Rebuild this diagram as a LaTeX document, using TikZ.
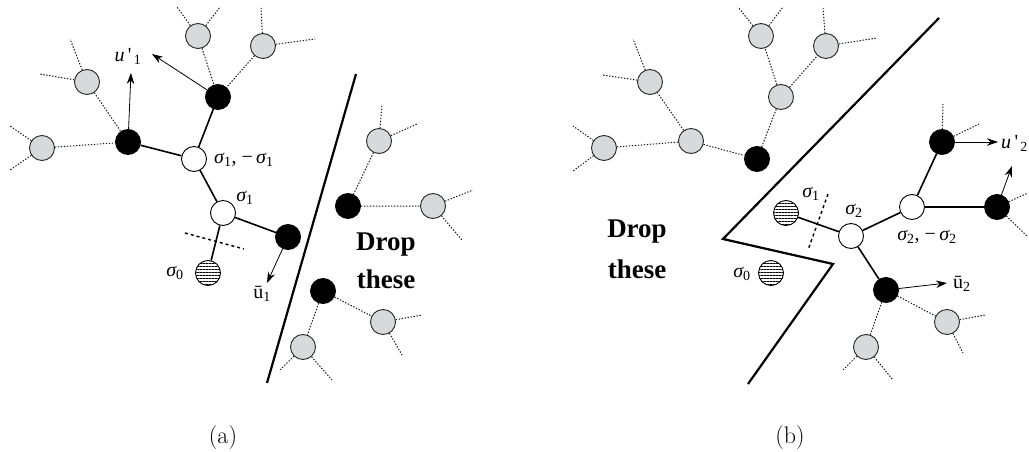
\RequirePackage{fix-cm}
\documentclass[tikz,border=0pt]{standalone}
\usepackage{fontspec}
\newfontfamily\dropfont{Liberation Serif}
\newfontfamily\lblfont{Liberation Serif}
\usetikzlibrary{arrows.meta,patterns.meta}
\definecolor{nodegray}{RGB}{216,217,218}
% label pieces: italic sigma with an upright index, primed and barred u
\newcommand\sg[1]{{\itshape σ}\textsubscript{#1}}
\newcommand\up[1]{{\itshape u}\,\textquotesingle\textsubscript{\,#1}}
\newcommand\ub[1]{\={u}\textsubscript{#1}}
\begin{document}
\begin{tikzpicture}[x=1pt,y=-1pt,
  vtx/.style={circle, draw=black, line width=0.9pt, minimum size=25pt, inner sep=0pt},
  grayv/.style={vtx, fill=nodegray, draw=black!85},
  blackv/.style={vtx, fill=black},
  whitev/.style={vtx, fill=white},
  hatchv/.style={vtx, pattern={Lines[angle=0,distance=3pt,line width=0.7pt]}},
  link/.style={line width=1.6pt},
  dots/.style={dash pattern=on 1.4pt off 1.6pt, line width=1pt, draw=black!90},
  move/.style={line width=0.8pt, -{Stealth[length=11pt,width=7.5pt]}},
  cut/.style={line width=2.2pt},
  cutmark/.style={dashed, line width=1.4pt},
  lab/.style={font=\lblfont\fontsize{20}{24}\selectfont, inner sep=0pt},
  droplab/.style={font=\dropfont\bfseries\fontsize{27}{38}\selectfont, align=center, inner sep=0pt},
  caption/.style={font=\fontsize{24}{27}\selectfont, inner sep=0pt}
]
\useasboundingbox (0,0) rectangle (1029,452);

% ---------------- panel (a) ----------------
\draw[cut] (356,74) coordinate (a_cutA) -- (267,383) coordinate (a_cutB);

\node[grayv]  (a_g1) at (42,148) {};
\node[grayv]  (a_g2) at (87,82) {};
\node[grayv]  (a_g3) at (198,36) {};
\node[grayv]  (a_g4) at (263,46) {};
\node[blackv] (a_b1) at (128,142) {};
\node[blackv] (a_b2) at (218,97) {};
\node[whitev] (a_w1) at (194,159) {};
\node[whitev] (a_w2) at (223,213) {};
\node[hatchv] (a_h0) at (208,273) {};
\node[blackv] (a_b3) at (288,237) {};
\node[blackv] (a_b4) at (348,206) {};
\node[grayv]  (a_g5) at (379,141) {};
\node[grayv]  (a_g6) at (433,206) {};
\node[blackv] (a_b5) at (323,291) {};
\node[grayv]  (a_g7) at (383,322) {};
\node[grayv]  (a_g8) at (303,347) {};

% loose ends of the dotted branches
\coordinate (a_s1) at (10,126);  \coordinate (a_s2) at (10,170);
\coordinate (a_s3) at (70,39);   \coordinate (a_s4) at (40,74);
\coordinate (a_s5) at (177,7);   \coordinate (a_s6) at (220,7);
\coordinate (a_s7) at (261,8);   \coordinate (a_s8) at (315,39);
\coordinate (a_s9) at (382,104); \coordinate (a_s10) at (417,124);
\coordinate (a_s11) at (473,190);\coordinate (a_s12) at (462,240);
\coordinate (a_s13) at (422,315);\coordinate (a_s14) at (402,355);
\coordinate (a_s15) at (280,370);\coordinate (a_s16) at (332,380);

\draw[dots] (a_g1) -- (a_s1) (a_g1) -- (a_s2)
            (a_g2) -- (a_s3) (a_g2) -- (a_s4)
            (a_g3) -- (a_s5) (a_g3) -- (a_s6)
            (a_g4) -- (a_s7) (a_g4) -- (a_s8)
            (a_g5) -- (a_s9) (a_g5) -- (a_s10)
            (a_g6) -- (a_s11) (a_g6) -- (a_s12)
            (a_g7) -- (a_s13) (a_g7) -- (a_s14)
            (a_g8) -- (a_s15) (a_g8) -- (a_s16);
\draw[dots] (a_g1) -- (a_b1) (a_g2) -- (a_b1)
            (a_g3) -- (a_b2) (a_g4) -- (a_b2)
            (a_g5) -- (a_b4) (a_b4) -- (a_g6)
            (a_b5) -- (a_g7) (a_b5) -- (a_g8);

\draw[link] (a_w1) -- (a_b1) (a_w1) -- (a_b2) (a_w1) -- (a_w2)
            (a_w2) -- (a_b3) (a_w2) -- (a_h0);
\draw[cutmark] (185,233) coordinate (a_m1) -- (244,249) coordinate (a_m2);

\coordinate (a_t1) at (131,73);
\coordinate (a_t2) at (152,54);
\coordinate (a_t3) at (267,283);
\draw[move] (a_b1) -- (a_t1);
\draw[move] (a_b2) -- (a_t2);
\draw[move] (a_b3) -- (a_t3);

\node[lab] (a_lu) at (128,56) {\up{1}};
\node[lab] (a_lbar) at (262,294) {\ub{1}};
\node[lab, anchor=west] (a_lw1) at (214,160) {\sg{1}, −\,\sg{1}};
\node[lab] (a_lw2) at (245,198) {\sg{1}};
\node[lab] (a_l0) at (175,273) {\sg{0}};
\node[droplab] (a_drop) at (386,261) {Drop\\these};

\node[caption] (a_cap) at (223,438) {(a)};

% ---------------- panel (b) ----------------
\draw[cut] (939,18) coordinate (b_c1) -- (723,239) coordinate (b_c2)
        -- (833,264) coordinate (b_c3) -- (748,384) coordinate (b_c4);

\node[grayv]  (b_g1) at (604,148) {};
\node[grayv]  (b_g2) at (691,141) {};
\node[grayv]  (b_g3) at (650,82) {};
\node[blackv] (b_b1) at (757,159) {};
\node[grayv]  (b_g4) at (781,97) {};
\node[grayv]  (b_g5) at (761,36) {};
\node[grayv]  (b_g6) at (826,46) {};
\node[hatchv] (b_h1) at (786,213) {};
\node[hatchv] (b_h0) at (771,273) {};
\node[whitev] (b_w2) at (851,236) {};
\node[whitev] (b_w3) at (912,207) {};
\node[blackv] (b_b2) at (942,142) {};
\node[blackv] (b_b3) at (997,207) {};
\node[blackv] (b_b4) at (886,290) {};
\node[grayv]  (b_g7) at (947,322) {};
\node[grayv]  (b_g8) at (866,347) {};

\coordinate (b_s1) at (573,126);  \coordinate (b_s2) at (573,171);
\coordinate (b_s3) at (633,39);   \coordinate (b_s4) at (602,75);
\coordinate (b_s5) at (738,7);    \coordinate (b_s6) at (783,7);
\coordinate (b_s7) at (823,8);    \coordinate (b_s8) at (877,38);
\coordinate (b_s9) at (943,104);  \coordinate (b_s10) at (979,124);
\coordinate (b_s11) at (1028,193);\coordinate (b_s12) at (1028,237);
\coordinate (b_s13) at (985,315); \coordinate (b_s14) at (963,353);
\coordinate (b_s15) at (843,370); \coordinate (b_s16) at (893,380);

\draw[dots] (b_g1) -- (b_s1) (b_g1) -- (b_s2)
            (b_g3) -- (b_s3) (b_g3) -- (b_s4)
            (b_g5) -- (b_s5) (b_g5) -- (b_s6)
            (b_g6) -- (b_s7) (b_g6) -- (b_s8)
            (b_b2) -- (b_s9) (b_b2) -- (b_s10)
            (b_b3) -- (b_s11) (b_b3) -- (b_s12)
            (b_g7) -- (b_s13) (b_g7) -- (b_s14)
            (b_g8) -- (b_s15) (b_g8) -- (b_s16);
\draw[dots] (b_g1) -- (b_g2) (b_g2) -- (b_g3) (b_g2) -- (b_b1)
            (b_b1) -- (b_g4) (b_g4) -- (b_g5) (b_g4) -- (b_g6)
            (b_b4) -- (b_g7) (b_b4) -- (b_g8);

\draw[link] (b_h1) -- (b_w2) (b_w2) -- (b_w3) (b_w2) -- (b_b4)
            (b_w3) -- (b_b2) (b_w3) -- (b_b3);
\draw[cutmark] (828,194) coordinate (b_m1) -- (808,250) coordinate (b_m2);

\coordinate (b_t1) at (998,142);
\coordinate (b_t2) at (1012,166);
\coordinate (b_t3) at (947,283);
\draw[move] (b_b2) -- (b_t1);
\draw[move] (b_b3) -- (b_t2);
\draw[move] (b_b4) -- (b_t3);

\node[lab, anchor=west] (b_lu) at (1001,143) {\up{2}};
\node[lab, anchor=west] (b_lbar) at (953,284) {\ub{2}};
\node[lab] (b_l1) at (811,194) {\sg{1}};
\node[lab] (b_l2) at (854,211) {\sg{2}};
\node[lab] (b_lw3) at (927,237) {\sg{2}, −\,\sg{2}};
\node[lab] (b_l0) at (742,274) {\sg{0}};
\node[droplab, font=\dropfont\bfseries\fontsize{27}{41}\selectfont] (b_drop) at (637,249) {Drop\\these};

\node[caption] (b_cap) at (790,438) {(b)};
\end{tikzpicture}
\end{document}
